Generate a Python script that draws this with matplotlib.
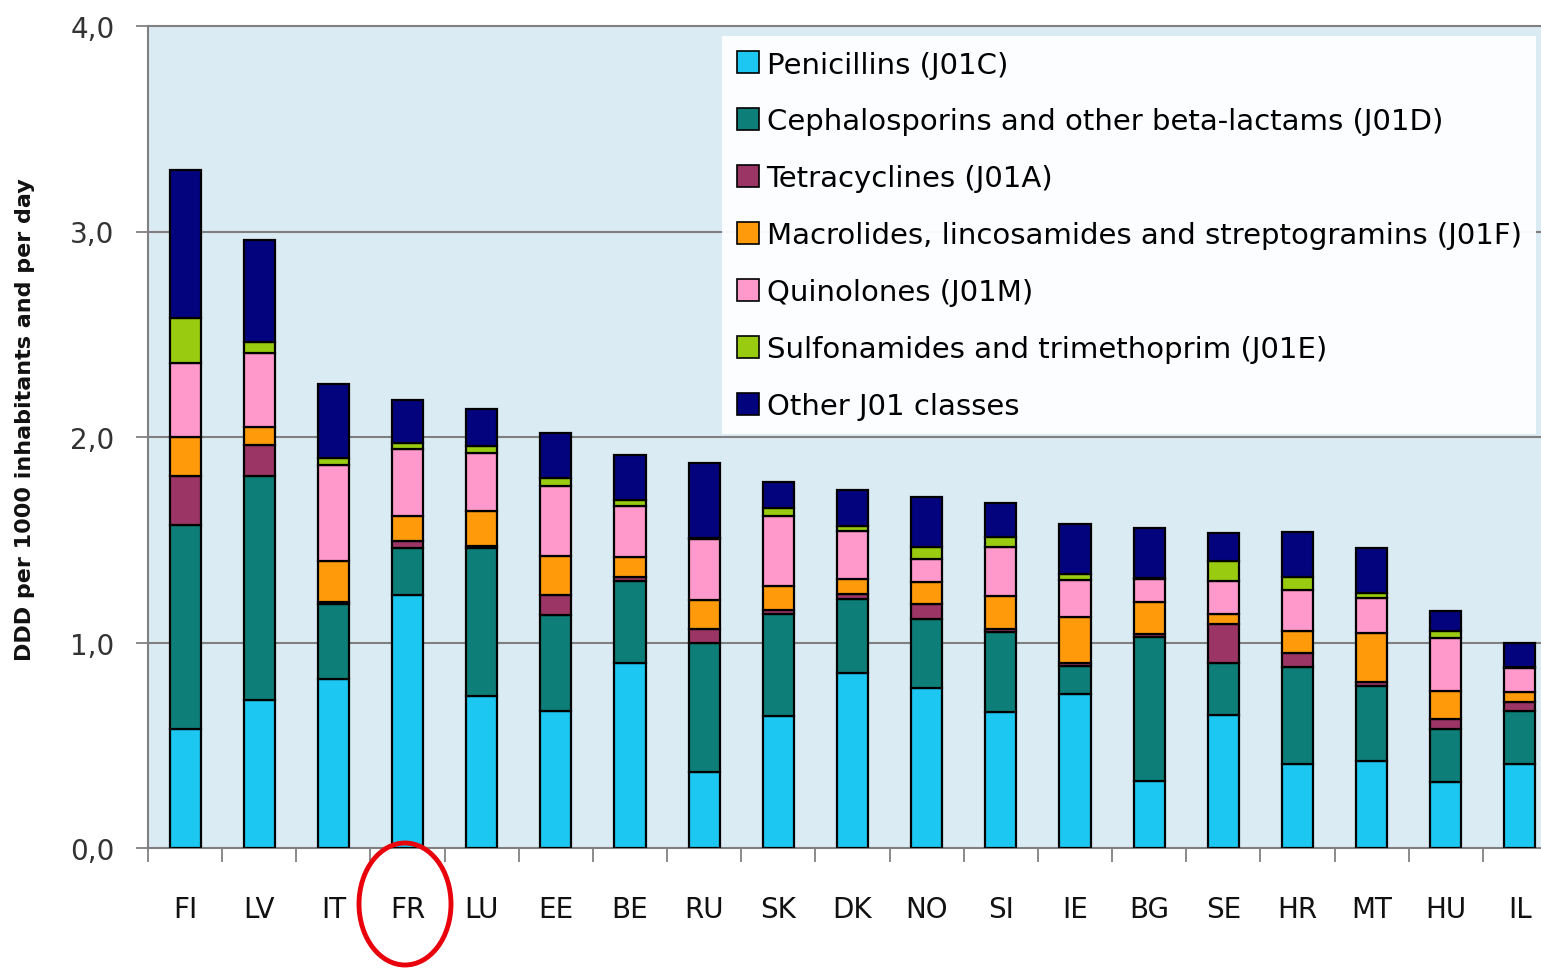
import matplotlib
matplotlib.use("Agg")
import matplotlib.pyplot as plt
import numpy as np
from matplotlib.patches import Patch, Ellipse

countries = ["FI", "LV", "IT", "FR", "LU", "EE", "BE", "RU", "SK", "DK",
             "NO", "SI", "IE", "BG", "SE", "HR", "MT", "HU", "IL"]

penicillins   = [0.58, 0.72, 0.82, 1.23, 0.74, 0.665, 0.90, 0.37, 0.64, 0.85,
                 0.78, 0.66, 0.75, 0.325, 0.645, 0.41, 0.425, 0.32, 0.41]
cephalosporins = [0.99, 1.09, 0.365, 0.23, 0.72, 0.47, 0.40, 0.63, 0.50, 0.36,
                  0.335, 0.39, 0.135, 0.70, 0.255, 0.47, 0.365, 0.26, 0.255]
tetracyclines = [0.24, 0.15, 0.01, 0.035, 0.01, 0.095, 0.02, 0.065, 0.02, 0.025,
                 0.07, 0.015, 0.015, 0.015, 0.19, 0.07, 0.02, 0.05, 0.045]
macrolides    = [0.19, 0.09, 0.20, 0.12, 0.17, 0.19, 0.095, 0.14, 0.115, 0.075,
                 0.11, 0.16, 0.225, 0.155, 0.05, 0.105, 0.235, 0.135, 0.05]
quinolones    = [0.36, 0.36, 0.47, 0.325, 0.28, 0.34, 0.25, 0.30, 0.34, 0.235,
                 0.11, 0.24, 0.18, 0.115, 0.16, 0.20, 0.17, 0.255, 0.115]
sulfonamides  = [0.22, 0.05, 0.035, 0.03, 0.035, 0.04, 0.03, 0.005, 0.04, 0.02,
                 0.06, 0.05, 0.03, 0.005, 0.095, 0.065, 0.025, 0.035, 0.005]
other_j01     = [0.72, 0.50, 0.36, 0.21, 0.18, 0.22, 0.215, 0.365, 0.125, 0.175,
                 0.245, 0.165, 0.24, 0.24, 0.14, 0.22, 0.22, 0.10, 0.12]

series_labels = ["Penicillins (J01C)",
                 "Cephalosporins and other beta-lactams (J01D)",
                 "Tetracyclines (J01A)",
                 "Macrolides, lincosamides and streptogramins (J01F)",
                 "Quinolones (J01M)",
                 "Sulfonamides and trimethoprim (J01E)",
                 "Other J01 classes"]
series_values = [penicillins, cephalosporins, tetracyclines, macrolides,
                 quinolones, sulfonamides, other_j01]
series_colors = ["#1CC8F2", "#0E7F78", "#9A3566", "#FF9A0A", "#FF99CC",
                 "#99CC10", "#04037E"]

y_ticks = [0, 1, 2, 3, 4]
y_tick_labels = ["0,0", "1,0", "2,0", "3,0", "4,0"]
y_label = "DDD per 1000 inhabitants and per day"

fig = plt.figure(figsize=(15.41, 9.70), dpi=100)
fig.patch.set_facecolor("white")
ax = fig.add_axes([148/1541, 121/970, 1409/1541, 822/970])
ax.set_facecolor("#DAEBF3")

x = np.arange(len(countries))
bottom = np.zeros(len(countries))
for vals, lab, col in zip(series_values, series_labels, series_colors):
    v = np.array(vals)
    ax.bar(x, v, 0.42, bottom=bottom, color=col, edgecolor="black",
           linewidth=1.6, label=lab, zorder=3)
    bottom += v

ax.set_xlim(-0.5, len(countries) - 0.5)
ax.set_ylim(0, 4)
ax.set_yticks(y_ticks)
ax.set_yticklabels(y_tick_labels, fontsize=20, color="#333333")
ax.set_xticks(x)
ax.set_xticklabels(countries, fontsize=20, color="#111111")
ax.set_xticks(np.arange(-0.5, len(countries), 1.0), minor=True)
ax.tick_params(axis="x", which="major", length=0, pad=34)
ax.tick_params(axis="x", which="minor", length=10, width=1.2, color="#777777", direction="out")
ax.tick_params(axis="y", which="major", length=9, width=1.2, color="#777777", direction="out", pad=15)

for yv in [1, 2, 3]:
    ax.axhline(yv, color="#808080", linewidth=1.5, zorder=1)

for s in ["left", "bottom", "top"]:
    ax.spines[s].set_color("#808080")
    ax.spines[s].set_linewidth(1.5)
ax.spines["right"].set_visible(False)

fig.text(25/1541, 1 - 420/970, y_label, rotation=90, ha="center", va="center",
         fontsize=16, fontweight="bold", color="#111111")

handles = [Patch(facecolor=c, edgecolor="black", linewidth=1.2) for c in series_colors]
leg = ax.legend(handles, series_labels, loc="upper left",
                bbox_to_anchor=((722 - 148) / 1409, (849 - 37) / 822),
                fontsize=21, frameon=True, fancybox=False,
                handlelength=0.78, handleheight=0.78, handletextpad=0.25,
                labelspacing=0.99, borderpad=0.5, borderaxespad=0)
leg.get_frame().set_facecolor("white")
leg.get_frame().set_edgecolor("none")
leg.get_frame().set_alpha(0.95)
leg.set_zorder(5)

ell = Ellipse((405/1541, 1 - 905/970), 92/1541, 122/970, transform=fig.transFigure,
              fill=False, edgecolor="#E8000B", linewidth=3.5)
fig.patches.append(ell)

fig.savefig("out.png", dpi=100)
